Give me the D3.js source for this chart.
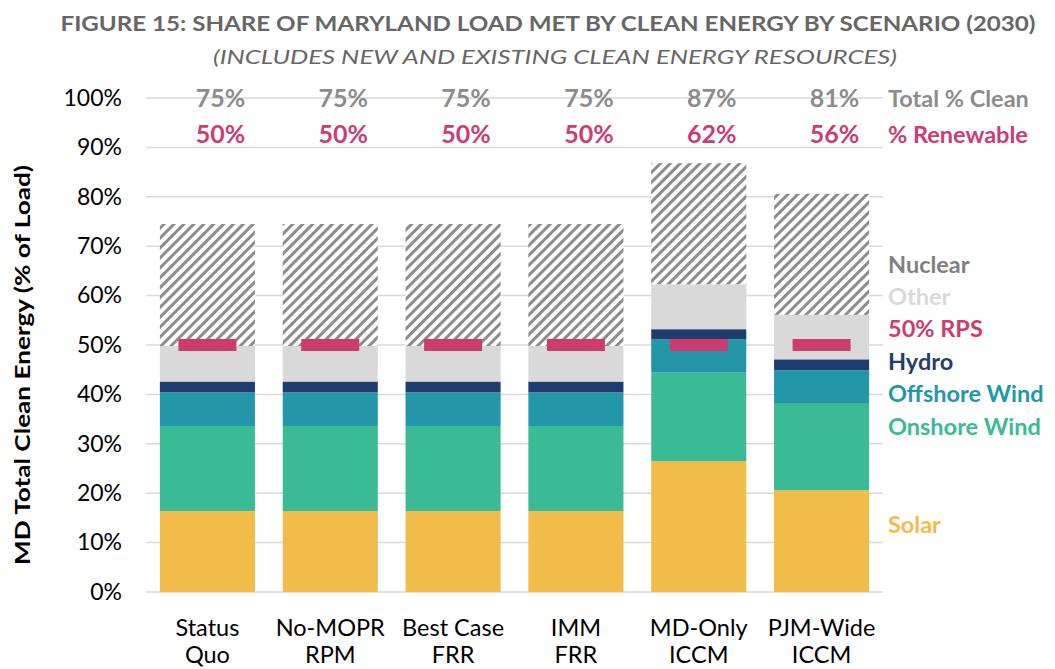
<!DOCTYPE html>
<html><head><meta charset="utf-8">
<script src="https://cdn.jsdelivr.net/npm/d3@7"></script>
<style>body{margin:0;background:#fff}svg{display:block;font-family:Lato,"Open Sans",sans-serif}</style>
</head><body>
<svg id="c" width="1055" height="669"></svg>
<script>
const categories = [["Status","Quo"],["No-MOPR","RPM"],["Best Case","FRR"],["IMM","FRR"],["MD-Only","ICCM"],["PJM-Wide","ICCM"]];
const solar    = [0.164,0.164,0.164,0.164,0.265,0.206];
const onshore  = [0.172,0.172,0.172,0.172,0.179,0.175];
const offshore = [0.068,0.068,0.068,0.068,0.068,0.068];
const hydro    = [0.022,0.022,0.022,0.022,0.020,0.022];
const other    = [0.072,0.072,0.072,0.072,0.091,0.090];
const nuclear  = [0.247,0.247,0.247,0.247,0.245,0.245];
const rps      = [0.50,0.50,0.50,0.50,0.50,0.50];
const totalClean = ["75%","75%","75%","75%","87%","81%"];
const renewable  = ["50%","50%","50%","50%","62%","56%"];
const yTicks = [0,0.1,0.2,0.3,0.4,0.5,0.6,0.7,0.8,0.9,1.0];

const keys = ["Solar","Onshore Wind","Offshore Wind","Hydro","Other","Nuclear"];
const seriesVals = [solar,onshore,offshore,hydro,other,nuclear];
const colors = {"Solar":"#F2BC4A","Onshore Wind":"#3BBA96","Offshore Wind":"#2397A8","Hydro":"#1F3D6E","Other":"#D9D9D9","Nuclear":"url(#hatch)"};
const rows = categories.map((c,i)=>{const r={cat:c.join(" ")};keys.forEach((k,j)=>r[k]=seriesVals[j][i]);return r;});

const svg = d3.select("#c");
const defs = svg.append("defs");
const pat = defs.append("pattern").attr("id","hatch").attr("patternUnits","userSpaceOnUse")
  .attr("width",7).attr("height",7).attr("patternTransform","rotate(45)");
pat.append("rect").attr("width",7).attr("height",7).attr("fill","#fff");
pat.append("line").attr("x1",1.5).attr("y1",0).attr("x2",1.5).attr("y2",7).attr("stroke","#8C8C8C").attr("stroke-width",3);

const x = d3.scaleBand().domain(rows.map(r=>r.cat)).range([146,883]).paddingInner(0.226).paddingOuter(0.113);
const y = d3.scaleLinear().domain([0,1]).range([592,98]);
const cx = i => x(rows[i].cat)+x.bandwidth()/2;

// gridlines
svg.append("g").selectAll("line").data(yTicks).join("line")
  .attr("x1",146).attr("x2",883).attr("y1",d=>y(d)).attr("y2",d=>y(d))
  .attr("stroke","#D9D9D9").attr("stroke-width",1.5);

// y axis labels
const yAxis = svg.append("g").attr("transform","translate(146,0)")
  .call(d3.axisLeft(y).tickValues(yTicks).tickFormat(d3.format(".0%")).tickSize(0).tickPadding(24));
yAxis.select(".domain").remove();
yAxis.selectAll("text").attr("font-size",23).attr("font-family","Lato").attr("fill","#000");

// stacked bars
const stack = d3.stack().keys(keys)(rows);
svg.append("g").selectAll("g").data(stack).join("g")
  .attr("fill",d=>colors[d.key])
  .selectAll("rect").data(d=>d).join("rect")
  .attr("x",d=>x(d.data.cat)).attr("width",x.bandwidth())
  .attr("y",d=>y(d[1])).attr("height",d=>y(d[0])-y(d[1]));

// RPS markers
svg.append("g").selectAll("rect").data(rps).join("rect")
  .attr("x",(d,i)=>cx(i)-29).attr("width",58)
  .attr("y",d=>y(d)-6).attr("height",12).attr("fill","#CC3D6E");

// totals
svg.append("g").selectAll("text").data(totalClean).join("text")
  .attr("x",(d,i)=>cx(i)+13).attr("y",y(1.0)).attr("dy","0.35em")
  .attr("text-anchor","middle").attr("font-size",25).attr("font-weight","bold").attr("fill","#8C8C8C").text(d=>d);
svg.append("g").selectAll("text").data(renewable).join("text")
  .attr("x",(d,i)=>cx(i)+13).attr("y",y(0.927)).attr("dy","0.35em")
  .attr("text-anchor","middle").attr("font-size",25).attr("font-weight","bold").attr("fill","#CC3D6E").text(d=>d);

// x labels
const xl = svg.append("g").selectAll("text").data(categories).join("text")
  .attr("x",(d,i)=>cx(i)).attr("text-anchor","middle")
  .attr("font-size",23.5).attr("fill","#000");
xl.append("tspan").attr("x",(d,i)=>cx(i)).attr("y",636).text(d=>d[0]);
xl.append("tspan").attr("x",(d,i)=>cx(i)).attr("y",663).text(d=>d[1]);

// legend
const legend = [
  ["Total % Clean","#8C8C8C",99],["% Renewable","#CC3D6E",135],
  ["Nuclear","#808080",265],["Other","#D9D9D9",297],["50% RPS","#CC3D6E",329],
  ["Hydro","#1F3D6E",362],["Offshore Wind","#2397A8",394],["Onshore Wind","#3BBA96",427],["Solar","#F2BC4A",525]
];
svg.append("g").selectAll("text").data(legend).join("text")
  .attr("x",888).attr("y",d=>d[2]).attr("dy","0.35em")
  .attr("font-size",23.5).attr("font-weight","bold").attr("fill",d=>d[1]).text(d=>d[0]);

// y title
svg.append("text").attr("transform","translate(30,365) rotate(-90)").attr("text-anchor","middle")
  .attr("font-size",21).attr("font-weight","bold").attr("fill","#000")
  .attr("textLength",400).attr("lengthAdjust","spacingAndGlyphs")
  .text("MD Total Clean Energy (% of Load)");

// titles
svg.append("text").attr("x",548).attr("y",31).attr("text-anchor","middle")
  .attr("font-size",20).attr("font-weight","bold").attr("fill","#666")
  .attr("textLength",975).attr("lengthAdjust","spacingAndGlyphs")
  .text("FIGURE 15: SHARE OF MARYLAND LOAD MET BY CLEAN ENERGY BY SCENARIO (2030)");
svg.append("text").attr("x",555).attr("y",64).attr("text-anchor","middle")
  .attr("font-size",20).attr("font-style","italic").attr("fill","#666")
  .attr("textLength",684).attr("lengthAdjust","spacingAndGlyphs")
  .text("(INCLUDES NEW AND EXISTING CLEAN ENERGY RESOURCES)");
</script>
</body></html>
